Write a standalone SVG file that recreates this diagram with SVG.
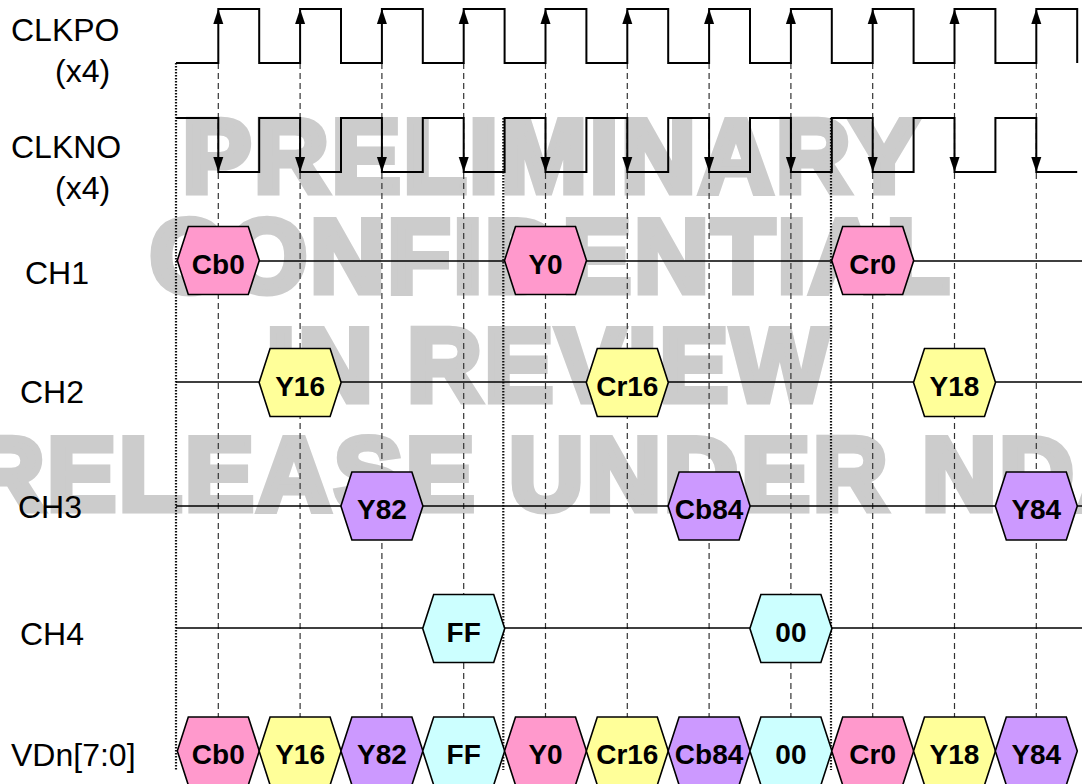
<svg xmlns="http://www.w3.org/2000/svg" width="1082" height="784" viewBox="0 0 1082 784">
<style>
.wm{font-family:"Liberation Sans",Arial,sans-serif;font-weight:bold;font-size:103px;fill:#cccccc;stroke:#cccccc;stroke-width:7;stroke-linejoin:miter;text-anchor:middle;letter-spacing:3px}
.lbl{font-family:"Liberation Sans",Arial,sans-serif;font-size:32px;fill:#000}
.hx{font-family:"Liberation Sans",Arial,sans-serif;font-weight:bold;font-size:28px;fill:#000;text-anchor:middle}
.wave{fill:none;stroke:#000;stroke-width:2}
.sig{fill:none;stroke:#000;stroke-width:1.6}
.dash{fill:none;stroke:#333;stroke-width:1.2;stroke-dasharray:6 4}
.dot{fill:none;stroke:#111;stroke-width:2.2;stroke-dasharray:1.5 1.5}
.hex{stroke:#000;stroke-width:1.6}
.pk{fill:#ff99cc}.yl{fill:#ffff99}.pu{fill:#cc99ff}.cy{fill:#ccffff}
</style>
<defs>
<path id="hexs" d="M-41,0 L-30,-34 L30,-34 L41,0 L30,34 L-30,34 Z"/>
<path id="au" d="M0,0 L-5,15 L5,15 Z" fill="#000"/>
<path id="ad" d="M0,0 L-5,-15 L5,-15 Z" fill="#000"/>
</defs>
<rect width="1082" height="784" fill="#fff"/>
<g id="watermark">
<text class="wm" x="552" y="192">PRELIMINARY</text>
<text class="wm" x="551" y="292">CONFIDENTIAL</text>
<text class="wm" x="549" y="401">IN REVIEW</text>
<text class="wm" x="562" y="510">RELEASE UNDER NDA</text>
</g>
<g id="labels">
<text class="lbl" x="11" y="41">CLKPO</text>
<text class="lbl" x="55" y="82">(x4)</text>
<text class="lbl" x="11" y="158">CLKNO</text>
<text class="lbl" x="55" y="199">(x4)</text>
<text class="lbl" x="25" y="284">CH1</text>
<text class="lbl" x="20" y="403">CH2</text>
<text class="lbl" x="18" y="518">CH3</text>
<text class="lbl" x="20" y="645">CH4</text>
<text class="lbl" x="11" y="766">VDn[7:0]</text>
</g>
<g id="connectors">
<g id="guides-dashed">
<path class="dash" d="M218.3,63V717M300.1,63V717M381.9,63V717M463.7,63V717M545.5,63V717M627.3,63V717M709.1,63V717M790.9,63V717M872.7,63V717M954.5,63V717M1036.3,63V717"/>
</g>
<g id="guides-dotted">
<path class="dot" d="M176,63V770M503.3,118V770M831,118V770"/>
</g>
<g id="channel-lines">
<path class="sig" d="M176,261H1082M176,382H1082M176,506H1082M176,628H1082"/>
</g>
</g>
<g id="clkpo">
<path class="wave" d="M176,63H218.3V9H259.2V63H300.1V9H341V63H381.9V9H422.8V63H463.7V9H504.6V63H545.5V9H586.4V63H627.3V9H668.2V63H709.1V9H750V63H790.9V9H831.8V63H872.7V9H913.6V63H954.5V9H995.4V63H1036.3V9H1077.2V63"/>
<use href="#au" x="218.3" y="9"/><use href="#au" x="300.1" y="9"/><use href="#au" x="381.9" y="9"/><use href="#au" x="463.7" y="9"/><use href="#au" x="545.5" y="9"/><use href="#au" x="627.3" y="9"/><use href="#au" x="709.1" y="9"/><use href="#au" x="790.9" y="9"/><use href="#au" x="872.7" y="9"/><use href="#au" x="954.5" y="9"/><use href="#au" x="1036.3" y="9"/>
</g>
<g id="clkno">
<path class="wave" d="M176,118H218.3V172H259.2V118H300.1V172H341V118H381.9V172H422.8V118H463.7V172H504.6V118H545.5V172H586.4V118H627.3V172H668.2V118H709.1V172H750V118H790.9V172H831.8V118H872.7V172H913.6V118H954.5V172H995.4V118H1036.3V172H1077.2"/>
<use href="#ad" x="218.3" y="172"/><use href="#ad" x="300.1" y="172"/><use href="#ad" x="381.9" y="172"/><use href="#ad" x="463.7" y="172"/><use href="#ad" x="545.5" y="172"/><use href="#ad" x="627.3" y="172"/><use href="#ad" x="709.1" y="172"/><use href="#ad" x="790.9" y="172"/><use href="#ad" x="872.7" y="172"/><use href="#ad" x="954.5" y="172"/><use href="#ad" x="1036.3" y="172"/>
</g>
<g id="ch1-cb0"><use href="#hexs" class="hex pk" x="218.3" y="260.5"/><text class="hx" x="218.3" y="273.5">Cb0</text></g>
<g id="ch1-y0"><use href="#hexs" class="hex pk" x="545.5" y="260.5"/><text class="hx" x="545.5" y="273.5">Y0</text></g>
<g id="ch1-cr0"><use href="#hexs" class="hex pk" x="872.7" y="260.5"/><text class="hx" x="872.7" y="273.5">Cr0</text></g>
<g id="ch2-y16"><use href="#hexs" class="hex yl" x="300.1" y="382.5"/><text class="hx" x="300.1" y="395.5">Y16</text></g>
<g id="ch2-cr16"><use href="#hexs" class="hex yl" x="627.3" y="382.5"/><text class="hx" x="627.3" y="395.5">Cr16</text></g>
<g id="ch2-y18"><use href="#hexs" class="hex yl" x="954.5" y="382.5"/><text class="hx" x="954.5" y="395.5">Y18</text></g>
<g id="ch3-y82"><use href="#hexs" class="hex pu" x="381.9" y="506"/><text class="hx" x="381.9" y="519">Y82</text></g>
<g id="ch3-cb84"><use href="#hexs" class="hex pu" x="709.1" y="506"/><text class="hx" x="709.1" y="519">Cb84</text></g>
<g id="ch3-y84"><use href="#hexs" class="hex pu" x="1036.3" y="506"/><text class="hx" x="1036.3" y="519">Y84</text></g>
<g id="ch4-ff"><use href="#hexs" class="hex cy" x="463.7" y="628.5"/><text class="hx" x="463.7" y="641.5">FF</text></g>
<g id="ch4-00"><use href="#hexs" class="hex cy" x="790.9" y="628.5"/><text class="hx" x="790.9" y="641.5">00</text></g>
<g id="vdn-cb0"><use href="#hexs" class="hex pk" x="218.3" y="751"/><text class="hx" x="218.3" y="764">Cb0</text></g>
<g id="vdn-y16"><use href="#hexs" class="hex yl" x="300.1" y="751"/><text class="hx" x="300.1" y="764">Y16</text></g>
<g id="vdn-y82"><use href="#hexs" class="hex pu" x="381.9" y="751"/><text class="hx" x="381.9" y="764">Y82</text></g>
<g id="vdn-ff"><use href="#hexs" class="hex cy" x="463.7" y="751"/><text class="hx" x="463.7" y="764">FF</text></g>
<g id="vdn-y0"><use href="#hexs" class="hex pk" x="545.5" y="751"/><text class="hx" x="545.5" y="764">Y0</text></g>
<g id="vdn-cr16"><use href="#hexs" class="hex yl" x="627.3" y="751"/><text class="hx" x="627.3" y="764">Cr16</text></g>
<g id="vdn-cb84"><use href="#hexs" class="hex pu" x="709.1" y="751"/><text class="hx" x="709.1" y="764">Cb84</text></g>
<g id="vdn-00"><use href="#hexs" class="hex cy" x="790.9" y="751"/><text class="hx" x="790.9" y="764">00</text></g>
<g id="vdn-cr0"><use href="#hexs" class="hex pk" x="872.7" y="751"/><text class="hx" x="872.7" y="764">Cr0</text></g>
<g id="vdn-y18"><use href="#hexs" class="hex yl" x="954.5" y="751"/><text class="hx" x="954.5" y="764">Y18</text></g>
<g id="vdn-y84"><use href="#hexs" class="hex pu" x="1036.3" y="751"/><text class="hx" x="1036.3" y="764">Y84</text></g>
</svg>
